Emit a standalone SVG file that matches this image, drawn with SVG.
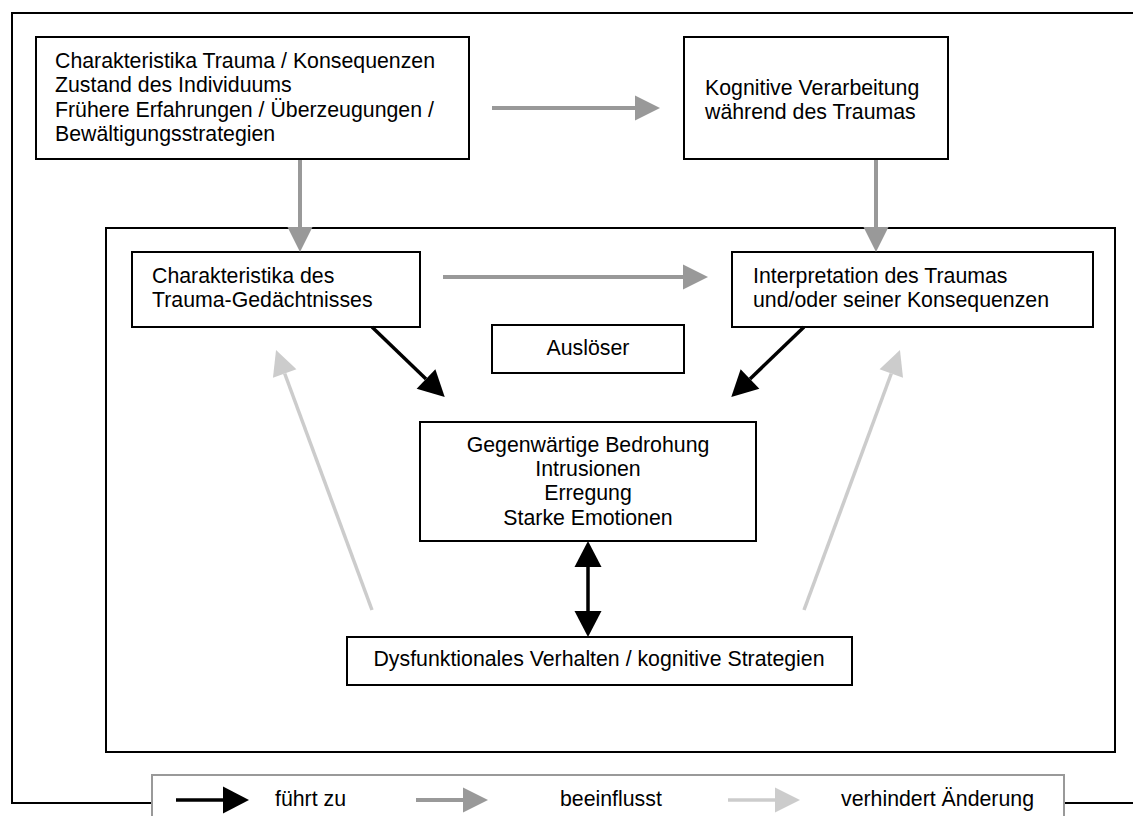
<svg xmlns="http://www.w3.org/2000/svg" width="1133" height="816" viewBox="0 0 1133 816">
<defs>
<style>
.box{fill:#fff;stroke:#000;stroke-width:2}
.frame{fill:none;stroke:#000;stroke-width:2}
text{font-family:"Liberation Sans",Arial,sans-serif;font-size:21.3px;fill:#000}
.c{text-anchor:middle}
.blk{stroke:#000;stroke-width:3.5;fill:none}
.gry{stroke:#999;stroke-width:4;fill:none}
.lgt{stroke:#ccc;stroke-width:3.5;fill:none}
</style>
<marker id="hb" markerUnits="userSpaceOnUse" markerWidth="26" markerHeight="27" refX="0" refY="13.5" orient="auto-start-reverse" overflow="visible"><path d="M0,0 L26,13.5 L0,27 z" fill="#000"/></marker>
<marker id="hg" markerUnits="userSpaceOnUse" markerWidth="25" markerHeight="25" refX="0" refY="12.5" orient="auto" overflow="visible"><path d="M0,0 L25,12.5 L0,25 z" fill="#999"/></marker>
<marker id="hl" markerUnits="userSpaceOnUse" markerWidth="25" markerHeight="25" refX="0" refY="12.5" orient="auto" overflow="visible"><path d="M0,0 L25,12.5 L0,25 z" fill="#ccc"/></marker>
</defs>
<rect width="1133" height="816" fill="#fff"/>
<g id="outer-frame"><rect class="frame" x="12" y="13" width="1140" height="790"/></g>
<g id="inner-frame"><rect class="frame" x="106" y="228" width="1009" height="524"/></g>
<g id="n-vorbedingungen"><rect class="box" x="36" y="37" width="433" height="122"/>
<text x="55" y="68">Charakteristika Trauma / Konsequenzen</text>
<text x="55" y="92">Zustand des Individuums</text>
<text x="55" y="117">Frühere Erfahrungen / Überzeugungen /</text>
<text x="55" y="141">Bewältigungsstrategien</text></g>
<g id="n-kognitive"><rect class="box" x="684" y="37" width="264" height="122"/>
<text x="705" y="95">Kognitive Verarbeitung</text>
<text x="705" y="119">während des Traumas</text></g>
<g id="n-gedaechtnis"><rect class="box" x="132" y="252" width="288" height="75"/>
<text x="152" y="283">Charakteristika des</text>
<text x="152" y="307">Trauma-Gedächtnisses</text></g>
<g id="n-interpretation"><rect class="box" x="732" y="252" width="361" height="75"/>
<text x="753" y="283">Interpretation des Traumas</text>
<text x="753" y="307">und/oder seiner Konsequenzen</text></g>
<g id="n-ausloeser"><rect class="box" x="492" y="325" width="192" height="48"/>
<text class="c" x="588" y="355">Auslöser</text></g>
<g id="n-bedrohung"><rect class="box" x="420" y="422" width="336" height="119"/>
<text class="c" x="588" y="452">Gegenwärtige Bedrohung</text>
<text class="c" x="588" y="476">Intrusionen</text>
<text class="c" x="588" y="500">Erregung</text>
<text class="c" x="588" y="525">Starke Emotionen</text></g>
<g id="n-verhalten"><rect class="box" x="347" y="637" width="505" height="48"/>
<text class="c" x="599" y="666">Dysfunktionales Verhalten / kognitive Strategien</text></g>
<g id="connectors">
<line class="gry" x1="492" y1="108" x2="635" y2="108" marker-end="url(#hg)"/>
<line class="gry" x1="300" y1="160" x2="300" y2="227" marker-end="url(#hg)"/>
<line class="gry" x1="876" y1="160" x2="876" y2="227" marker-end="url(#hg)"/>
<line class="gry" x1="443" y1="277" x2="683" y2="277" marker-end="url(#hg)"/>
<line class="blk" x1="372" y1="327" x2="426" y2="379" marker-end="url(#hb)"/>
<line class="blk" x1="804" y1="327" x2="750" y2="379" marker-end="url(#hb)"/>
<line class="blk" x1="588" y1="567" x2="588" y2="611" marker-start="url(#hb)" marker-end="url(#hb)"/>
<line class="lgt" x1="372" y1="610" x2="284.7" y2="373.5" marker-end="url(#hl)"/>
<line class="lgt" x1="804" y1="610" x2="891.3" y2="373.5" marker-end="url(#hl)"/>
</g>
<g id="legend">
<rect x="152" y="775" width="912" height="60" fill="#fff" stroke="#999" stroke-width="2"/>
<line class="blk" x1="176" y1="800" x2="223" y2="800" marker-end="url(#hb)"/>
<text x="275" y="806">führt zu</text>
<line class="gry" x1="416" y1="800" x2="463" y2="800" marker-end="url(#hg)"/>
<text x="560" y="806">beeinflusst</text>
<line class="lgt" x1="728" y1="800" x2="775" y2="800" marker-end="url(#hl)"/>
<text x="841" y="806">verhindert Änderung</text>
</g>
</svg>
